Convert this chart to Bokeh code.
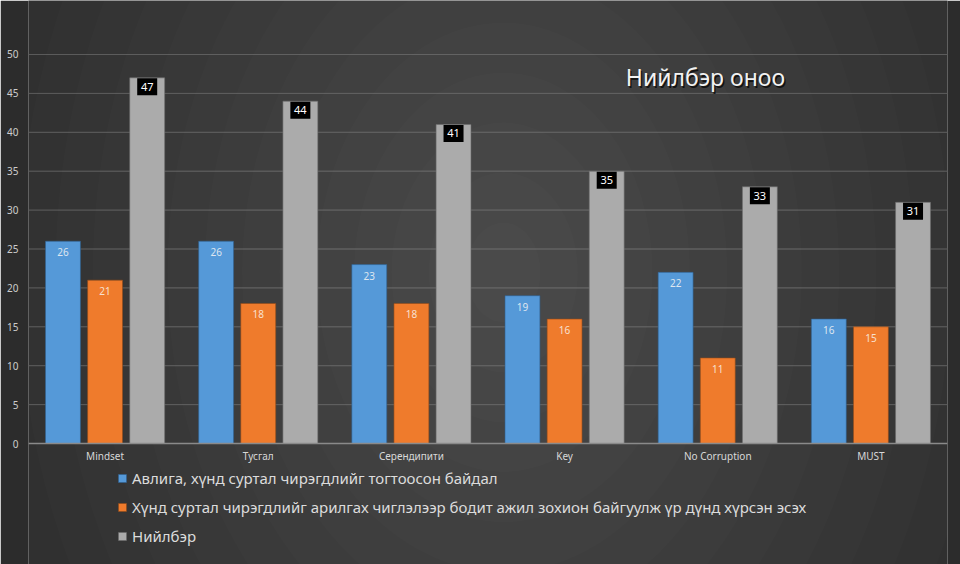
from bokeh.plotting import figure
from bokeh.models import (ColumnDataSource, FactorRange, Range1d, LabelSet, Label,
                          Legend, LegendItem, FixedTicker, Span)
from bokeh.transform import dodge
from bokeh.core.properties import value
from bokeh.embed import file_html
from bokeh.resources import INLINE

categories = ["Mindset", "Тусгал", "Серендипити", "Key", "No Corruption", "MUST"]
series_a = [26, 26, 23, 19, 22, 16]
series_b = [21, 18, 18, 16, 11, 15]
series_total = [47, 44, 41, 35, 33, 31]
y_ticks = [0, 5, 10, 15, 20, 25, 30, 35, 40, 45, 50]
legend_labels = [
    "Авлига, хүнд суртал чирэгдлийг тогтоосон байдал",
    "Хүнд суртал чирэгдлийг арилгах чиглэлээр бодит ажил зохион байгуулж үр дүнд хүрсэн эсэх",
    "Нийлбэр",
]
title_text = "Нийлбэр оноо"

FONT = "Noto Sans"
BG = "#2c2c2c"

src = ColumnDataSource(dict(
    cat=categories,
    a=series_a, b=series_b, t=series_total,
    a_s=[str(v) for v in series_a],
    b_s=[str(v) for v in series_b],
    t_s=[str(v) for v in series_total],
))

# frame spans full height; the y range extends above 50 and below 0 for title/labels/legend
p = figure(width=960, height=564, x_range=FactorRange(*categories, range_padding=0),
           y_range=Range1d(-15.55, 56.94), output_backend="svg", toolbar_location=None,
           min_border_left=28, min_border_right=13, min_border_top=0,
           min_border_bottom=0)
p.background_fill_color = BG
p.border_fill_color = BG
p.outline_line_color = None

# soft radial glow of the dark backdrop (decorative)
n_rings = 15
for i in range(n_rings, 0, -1):
    s = i / n_rings
    p.ellipse(x=3.1, y=22, width=1120 * s, height=1500 * s,
              width_units="screen", height_units="screen",
              fill_color="white", fill_alpha=0.0105, line_color=None)

# horizontal grid drawn as spans above the glow
for t in y_ticks[1:]:
    p.add_layout(Span(location=t, dimension="width", line_color="#5a5a5a", line_width=1,
                      level="underlay"))

off = 0.275
w = 0.228
r1 = p.vbar(x=dodge("cat", -off, range=p.x_range), top="a", width=w, source=src,
            fill_color="#5599d8", line_color="#2f5f8f", line_width=0.6)
r2 = p.vbar(x=dodge("cat", 0.0, range=p.x_range), top="b", width=w, source=src,
            fill_color="#ef7b2c", line_color="#8f4a1a", line_width=0.6)
r3 = p.vbar(x=dodge("cat", off, range=p.x_range), top="t", width=w, source=src,
            fill_color="#ababab", line_color="#6a6a6a", line_width=0.6)

# x axis baseline at 0
p.add_layout(Span(location=0, dimension="width", line_color="#8a8a8a", line_width=1.5))

# category labels under the baseline
p.text(x="cat", y=0, text="cat", source=src, text_align="center", text_baseline="top",
       y_offset=5, text_font=value(FONT), text_font_size="10px", text_color="#d8d8d8")

# black boxes behind total labels
p.rect(x=dodge("cat", off, range=p.x_range), y=dodge("t", -1.15), width=20, height=17,
       width_units="screen", height_units="screen", source=src,
       fill_color="black", line_color=None)

la = LabelSet(x=dodge("cat", -off, range=p.x_range), y="a", text="a_s", source=src,
              text_align="center", text_baseline="top", y_offset=-7,
              text_font=value(FONT), text_font_size="10px", text_color="#dde6f0")
lb = LabelSet(x=dodge("cat", 0.0, range=p.x_range), y="b", text="b_s", source=src,
              text_align="center", text_baseline="top", y_offset=-7,
              text_font=value(FONT), text_font_size="10px", text_color="#f8e0d0")
lt = LabelSet(x=dodge("cat", off, range=p.x_range), y=dodge("t", -1.15), text="t_s",
              source=src, text_align="center", text_baseline="middle",
              text_font=value(FONT), text_font_size="11px", text_color="white")
p.add_layout(la)
p.add_layout(lb)
p.add_layout(lt)

# title inside plot area
shadow = Label(x=3.9, y=47.1, text=title_text, text_font=FONT, text_font_size="23px",
               text_color="black", text_alpha=0.7, text_baseline="middle",
               x_offset=1.5, y_offset=-1.5)
ttl = Label(x=3.9, y=47.1, text=title_text, text_font=FONT, text_font_size="23px",
            text_color="#f2f2f2", text_baseline="middle")
p.add_layout(shadow)
p.add_layout(ttl)

# axes
p.xaxis.visible = False
p.yaxis.ticker = FixedTicker(ticks=y_ticks)
p.yaxis.axis_line_color = None
p.yaxis.major_tick_line_color = None
p.yaxis.major_tick_out = 0
p.yaxis.major_tick_in = 0
p.yaxis.minor_tick_line_color = None
p.yaxis.major_label_text_color = "#cccccc"
p.yaxis.major_label_text_font = FONT
p.yaxis.major_label_text_font_size = "10px"
p.yaxis.major_label_standoff = 10

p.xgrid.grid_line_color = None
p.ygrid.grid_line_color = None

legend = Legend(items=[LegendItem(label=legend_labels[0], renderers=[r1]),
                       LegendItem(label=legend_labels[1], renderers=[r2]),
                       LegendItem(label=legend_labels[2], renderers=[r3])],
                orientation="vertical", location=(89, 18), margin=0, padding=6,
                spacing=9, glyph_width=10, glyph_height=10, label_standoff=5,
                label_text_font=FONT, label_text_font_size="15px",
                label_text_color="#dcdcdc", background_fill_alpha=0,
                border_line_color=None)
p.add_layout(legend)

open("out.html", "w").write(file_html(p, INLINE))
